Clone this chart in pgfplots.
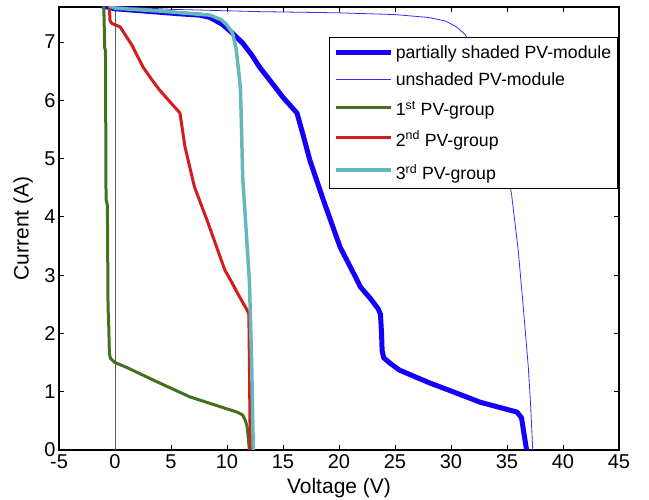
\documentclass[border=0pt]{standalone}
\usepackage{fontspec}
\setmainfont{Liberation Sans}
\usepackage{pgfplots}
\pgfplotsset{compat=1.18}

\definecolor{shadeblue}{RGB}{20,0,250}
\definecolor{plainblue}{RGB}{60,40,250}
\definecolor{groupgreen}{RGB}{68,112,30}
\definecolor{groupred}{RGB}{210,28,30}
\definecolor{groupcyan}{RGB}{100,184,184}

% struts that set the spacing of the legend rows
\newcommand{\rowA}{\rule[-5pt]{0pt}{19pt}}
\newcommand{\rowB}{\rule[-16pt]{0pt}{34pt}}
\newcommand{\rowC}{\rule[-17pt]{0pt}{38pt}}

\begin{document}
\begin{tikzpicture}[x=1pt,y=1pt]
\path[use as bounding box] (-59,-50) rectangle (590,450);
\begin{axis}[
  at={(0,0)}, anchor=south west,
  scale only axis, width=560pt, height=443pt,
  xmin=-5, xmax=45, ymin=0, ymax=7.6,
  xtick={-5,0,...,45},
  xticklabels={-5,0,5,10,15,20,25,30,35,40,45},
  ytick={0,1,...,7},
  tick align=inside, major tick length=5pt,
  axis line style={line width=1.2pt},
  every tick/.style={black, line width=0.8pt},
  tick label style={font=\fontsize{20}{24}\selectfont},
  xticklabel style={yshift=-1.5pt},
  /pgf/number format/assume math mode=true,
  xlabel={Voltage (V)}, ylabel={Current (A)},
  label style={font=\fontsize{21}{25}\selectfont},
  xlabel style={at={(axis description cs:0.5,-0.086)},anchor=center},
  ylabel style={at={(axis description cs:-0.064,0.5)},anchor=center},
  legend cell align=left,
  legend image code/.code={\draw[#1] (0pt,0pt) -- (55pt,0pt);},
  legend style={at={(rel axis cs:0.998,0.932)}, anchor=north east,
    draw=black, line width=1.2pt, fill=white,
    font=\fontsize{17.7}{20}\selectfont,
    inner xsep=4pt, inner ysep=5pt, row sep=7pt,
    nodes={inner ysep=2pt}},
]
% reference line at zero voltage
\addplot[forget plot, color=black!65, line width=0.8pt] coordinates {(0,0) (0,7.6)};

% partially shaded module
\addplot[color=shadeblue, line width=5pt, line join=round] coordinates {
(-1.2,7.62) (0,7.57) (2,7.54) (4,7.51) (6,7.48) (7.6,7.46) (8.5,7.42)
(9.6,7.3) (10.5,7.15) (11.4,6.98) (12.2,6.78) (12.9,6.57) (14,6.3)
(15,6.05) (16.25,5.78) (16.8,5.4) (17.4,4.97) (18.6,4.29) (20.1,3.48)
(21.6,2.92) (21.9,2.8) (22.8,2.6) (23.5,2.42) (23.7,2.33) (23.8,2.0)
(23.85,1.7) (24.0,1.58) (24.55,1.49) (25.4,1.37) (28.1,1.15) (29.9,1.02)
(32.6,0.82) (35.9,0.65) (36.3,0.55) (36.5,0.3) (36.75,0)};
\addlegendentry{\rowA partially shaded PV-module}

% unshaded module
\addplot[color=plainblue, line width=0.8pt] coordinates {
(-1,7.62) (5,7.56) (13,7.52) (20,7.5) (25,7.47) (28,7.42) (29.5,7.36)
(30.4,7.27) (31.2,7.14) (32,6.92) (32.8,6.57) (33.6,6.02) (34.3,5.42)
(34.9,4.9) (35.4,4.4) (36.0,3.43) (36.4,2.57) (36.9,1.43) (37.1,0.8)
(37.3,0)};
\addlegendentry{\rowA unshaded PV-module}

% first group
\addplot[color=groupgreen, line width=3pt, line join=round] coordinates {
(-1.0,7.62) (-0.92,6.9) (-0.85,6.85) (-0.8,4.3) (-0.68,4.2) (-0.62,2.4)
(-0.58,2.3) (-0.5,1.65) (-0.4,1.57) (0,1.5) (1,1.42) (3.75,1.17)
(6.7,0.91) (10.9,0.65) (11.4,0.6) (11.65,0.5) (11.8,0.4) (11.9,0.2)
(12.0,0)};
\addlegendentry{\rowB 1\textsuperscript{st} PV-group}

% second group
\addplot[color=groupred, line width=3pt, line join=round] coordinates {
(-0.5,7.62) (-0.45,7.37) (-0.3,7.32) (0.45,7.26) (1.5,6.95) (2.5,6.57)
(3.3,6.35) (4.0,6.17) (5.8,5.78) (6.25,5.2) (7.1,4.51) (8.3,3.9)
(9.8,3.09) (10.3,2.92) (11.2,2.6) (11.8,2.4) (11.95,2.33) (12.0,1.5)
(12.05,0.5) (12.1,0)};
\addlegendentry{\rowB 2\textsuperscript{nd} PV-group}

% third group
\addplot[color=groupcyan, line width=3.5pt, line join=round] coordinates {
(-0.5,7.62) (0,7.58) (4,7.53) (8.5,7.46) (9.5,7.38) (10.0,7.29)
(10.5,7.15) (10.8,6.9) (11.0,6.57) (11.2,6.2) (11.3,5.5) (11.4,4.68)
(11.7,3.8) (12.0,2.9) (12.2,1.5) (12.35,0)};
\addlegendentry{\rowC 3\textsuperscript{rd} PV-group}
\end{axis}
\end{tikzpicture}
\end{document}
